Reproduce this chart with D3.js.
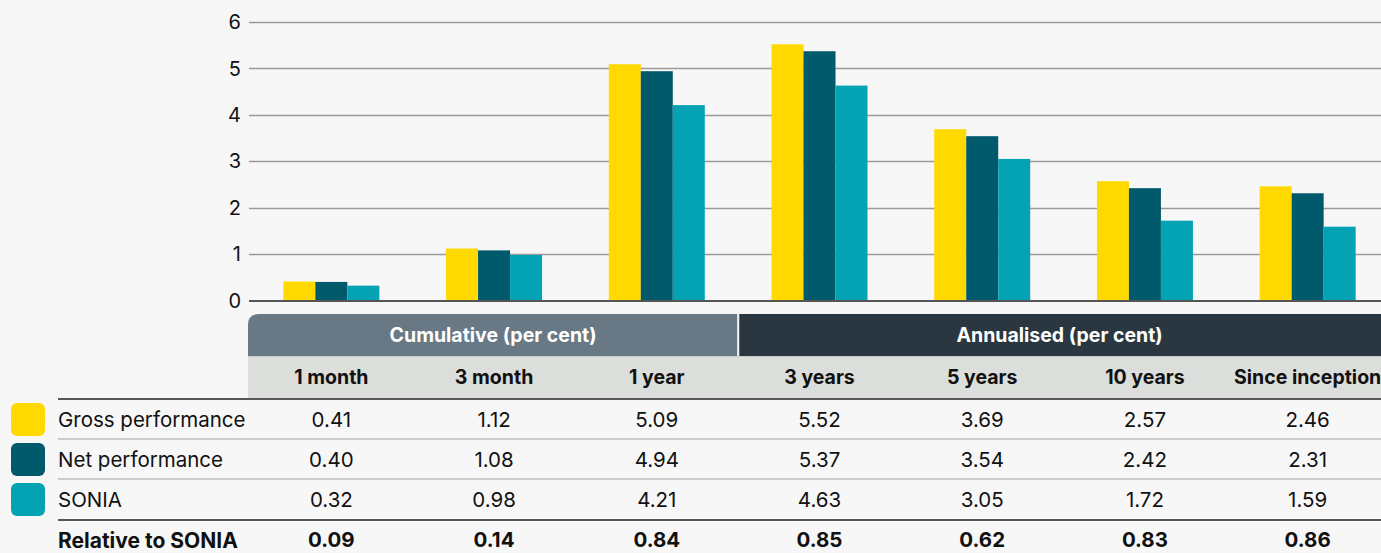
<!DOCTYPE html>
<html><head><meta charset="utf-8">
<script src="https://cdn.jsdelivr.net/npm/d3@7"></script>
<style>
html,body{margin:0;padding:0;background:#f7f7f7;}
svg{display:block;font-family:Inter,"Noto Sans",sans-serif;}
</style></head>
<body><svg id="c" width="1381" height="553"></svg>
<script>
const periods = ["1 month","3 month","1 year","3 years","5 years","10 years","Since inception"];
const seriesNames = ["Gross performance","Net performance","SONIA"];
const gross = [0.41,1.12,5.09,5.52,3.69,2.57,2.46];
const net = [0.40,1.08,4.94,5.37,3.54,2.42,2.31];
const sonia = [0.32,0.98,4.21,4.63,3.05,1.72,1.59];
const relative = [0.09,0.14,0.84,0.85,0.62,0.83,0.86];
const yTicks = [0,1,2,3,4,5,6];
const groups = [{label:"Cumulative (per cent)", from:0, to:2},{label:"Annualised (per cent)", from:3, to:6}];
const colors = ["#FFD900","#005A6B","#04A3B3"];
const relLabel = "Relative to SONIA";

const series = [gross, net, sonia];
const svg = d3.select("#c");
const x0 = d3.scaleBand().domain(periods).range([250,1389]).paddingInner(0.41).paddingOuter(0.205);
const x1 = d3.scaleBand().domain(seriesNames).range([0,x0.bandwidth()]);
const y = d3.scaleLinear().domain([0,6]).range([300.5,22]);
const colW = x0.step();
const colStart = p => x0(p) - x0.step()*x0.paddingInner()/2;

// gridlines
svg.append("g").selectAll("line").data(yTicks.filter(d=>d>0)).join("line")
  .attr("x1",249).attr("x2",1381).attr("y1",d=>Math.round(y(d))+0.5).attr("y2",d=>Math.round(y(d))+0.5)
  .attr("stroke","#9a9a9a").attr("stroke-width",1.3);
svg.append("g").selectAll("text").data(yTicks).join("text")
  .attr("x",241).attr("y",d=>y(d)).attr("dy","0.36em").attr("text-anchor","end")
  .attr("font-size",20).attr("fill","#111").text(d=>d);

// bars
const gBars = svg.append("g");
periods.forEach((p,i)=>{
  series.forEach((s,j)=>{
    gBars.append("rect").attr("x",x0(p)+x1(seriesNames[j])).attr("width",x1.bandwidth())
      .attr("y",y(s[i])).attr("height",y(0)-y(s[i])).attr("fill",colors[j]);
  });
});
svg.append("line").attr("x1",249).attr("x2",1381).attr("y1",y(0)+0.5).attr("y2",y(0)+0.5)
  .attr("stroke","#555").attr("stroke-width",2);

// table header
const hTop = 314, hBot = 356, pBot = 398;
groups.forEach((g,k)=>{
  const xa = k===0 ? 248 : colStart(periods[g.from]);
  const xb = colStart(periods[g.to]) + colW;
  const w = xb - xa;
  const fill = k===0 ? "#687985" : "#2B3740";
  if(k===0){
    const r=11;
    svg.append("path").attr("d",`M${xa},${hBot} V${hTop+r} Q${xa},${hTop} ${xa+r},${hTop} H${xb} V${hBot} Z`).attr("fill",fill);
  } else {
    svg.append("rect").attr("x",xa+1).attr("y",hTop).attr("width",w).attr("height",hBot-hTop).attr("fill",fill);
  }
  const cx = k===0 ? (xa+xb)/2 : (xa+1381)/2;
  svg.append("text").attr("x",cx).attr("y",(hTop+hBot)/2).attr("dy","0.36em")
    .attr("text-anchor","middle").attr("font-size",19.5).attr("font-weight",700).attr("fill","#fff")
    .text(g.label);
});
svg.append("rect").attr("x",colStart(periods[3])-1).attr("y",hTop).attr("width",2).attr("height",hBot-hTop).attr("fill","#f2f2f2");
svg.append("rect").attr("x",248).attr("y",hBot).attr("width",1381-248).attr("height",pBot-hBot).attr("fill","#DCDEDB");
svg.append("line").attr("x1",248).attr("x2",1381).attr("y1",hBot+0.5).attr("y2",hBot+0.5).attr("stroke","#c8cccc").attr("stroke-width",1);
svg.append("g").selectAll("text").data(periods).join("text")
  .attr("x",d=>x0(d)+x0.bandwidth()/2).attr("y",(hBot+pBot)/2).attr("dy","0.36em")
  .attr("text-anchor","middle").attr("font-size",19.5).attr("font-weight",700).attr("fill","#111")
  .text(d=>d);

// rows
const rowY = [420,460,500,540];
const lineY = [399,439,479,520];
svg.append("line").attr("x1",58).attr("x2",1381).attr("y1",lineY[0]).attr("y2",lineY[0]).attr("stroke","#222").attr("stroke-width",1.6);
svg.append("line").attr("x1",58).attr("x2",1381).attr("y1",lineY[1]).attr("y2",lineY[1]).attr("stroke","#bdbdbd").attr("stroke-width",1.5);
svg.append("line").attr("x1",58).attr("x2",1381).attr("y1",lineY[2]).attr("y2",lineY[2]).attr("stroke","#bdbdbd").attr("stroke-width",1.5);
svg.append("line").attr("x1",58).attr("x2",1381).attr("y1",lineY[3]).attr("y2",lineY[3]).attr("stroke","#555").attr("stroke-width",2);

seriesNames.forEach((n,j)=>{
  svg.append("rect").attr("x",11).attr("y",rowY[j]-17).attr("width",34).attr("height",33).attr("rx",6).attr("fill",colors[j]);
  svg.append("text").attr("x",58).attr("y",rowY[j]).attr("dy","0.36em").attr("font-size",20.5).attr("fill","#111").text(n);
  svg.append("g").selectAll("text").data(periods).join("text")
    .attr("x",d=>x0(d)+x0.bandwidth()/2).attr("y",rowY[j]).attr("dy","0.36em").attr("text-anchor","middle")
    .attr("font-size",20.5).attr("fill","#111").text((d,i)=>series[j][i].toFixed(2));
});
svg.append("text").attr("x",58).attr("y",rowY[3]).attr("dy","0.36em").attr("font-size",21).attr("font-weight",700)
  .attr("fill","#111").text(relLabel);
svg.append("g").selectAll("text").data(periods).join("text")
  .attr("x",d=>x0(d)+x0.bandwidth()/2).attr("y",rowY[3]).attr("dy","0.36em").attr("text-anchor","middle")
  .attr("font-size",20.5).attr("font-weight",700).attr("fill","#111").text((d,i)=>relative[i].toFixed(2));
</script></body></html>
